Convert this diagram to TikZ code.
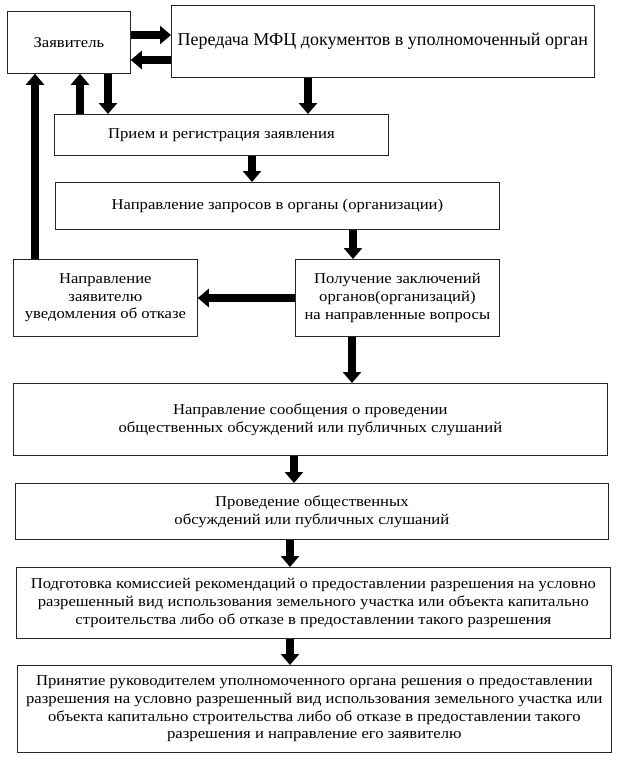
\documentclass[tikz,border=0pt]{standalone}
\usepackage{fontspec}
\setmainfont{Liberation Serif}
\newfontfamily\widefont[FakeStretch=1.11]{Liberation Serif}
\usetikzlibrary{arrows.meta}
\begin{document}
\begin{tikzpicture}[x=1pt,y=1pt,
  box/.style={draw=black!85, line width=0.8pt, rectangle, anchor=north west, align=center, inner sep=0pt,
    font=\widefont\fontsize{15}{17.8}\selectfont},
  arr/.style={line width=8pt, -{Triangle[length=11pt,width=18pt]}, black}]
\useasboundingbox (0,0) rectangle (617,-758);
\node[box, minimum width=123pt, minimum height=62pt] (zayav) at (7,-11) {Заявитель};
\node[box, minimum width=423pt, minimum height=72pt, font=\fontsize{18}{21}\selectfont] (mfc) at (171,-5) {Передача МФЦ документов в уполномоченный орган};
\node[box, minimum width=334pt, minimum height=41pt] (priem) at (54,-114) {Прием и регистрация заявления};
\node[box, minimum width=444pt, minimum height=47pt] (zapr) at (55,-182) {Направление запросов в органы (организации)};
\node[box, minimum width=184pt, minimum height=77pt] (otkaz) at (13,-259) {Направление\\заявителю\\уведомления об отказе};
\node[box, minimum width=204pt, minimum height=77pt] (poluch) at (295,-259) {Получение заключений\\органов(организаций)\\на направленные вопросы};
\node[box, minimum width=594pt, minimum height=72pt] (soob) at (13,-383) {Направление сообщения о проведении\\ общественных обсуждений или публичных слушаний};
\node[box, minimum width=593pt, minimum height=56pt] (proved) at (15,-483) {Проведение общественных\\ обсуждений или публичных слушаний};
\node[box, minimum width=594pt, minimum height=71pt] (podgot) at (16,-567) {Подготовка комиссией рекомендаций о предоставлении разрешения на условно\\разрешенный вид использования земельного участка или объекта капитально\\строительства либо об отказе в предоставлении такого разрешения};
\node[box, minimum width=594pt, minimum height=87pt] (prin) at (17,-665) {Принятие руководителем уполномоченного органа решения о предоставлении\\разрешения на условно разрешенный вид использования земельного участка или\\объекта капитально строительства либо об отказе в предоставлении такого\\разрешения и направление его заявителю};
\coordinate (y35) at (0,-35);
\coordinate (y60) at (0,-60);
\coordinate (y298) at (0,-298);
\coordinate (x35) at (35,0);
\coordinate (x80) at (80,0);
\coordinate (x108) at (108,0);
\coordinate (x308) at (308,0);
\coordinate (x252) at (252,0);
\coordinate (x353) at (353,0);
\coordinate (x352) at (352,0);
\coordinate (x294) at (294,0);
\coordinate (x290) at (290,0);
\draw[arr] (zayav.east |- y35) -- (mfc.west |- y35);
\draw[arr] (mfc.west |- y60) -- (zayav.east |- y60);
\draw[arr] (priem.north -| x80) -- (zayav.south -| x80);
\draw[arr] (zayav.south -| x108) -- (priem.north -| x108);
\draw[arr] (mfc.south -| x308) -- (priem.north -| x308);
\draw[arr] (priem.south -| x252) -- (zapr.north -| x252);
\draw[arr] (zapr.south -| x353) -- (poluch.north -| x353);
\draw[arr] (poluch.west |- y298) -- (otkaz.east |- y298);
\draw[arr] (otkaz.north -| x35) -- (zayav.south -| x35);
\draw[arr] (poluch.south -| x352) -- (soob.north -| x352);
\draw[arr] (soob.south -| x294) -- (proved.north -| x294);
\draw[arr] (proved.south -| x290) -- (podgot.north -| x290);
\draw[arr] (podgot.south -| x290) -- (prin.north -| x290);
\end{tikzpicture}
\end{document}
